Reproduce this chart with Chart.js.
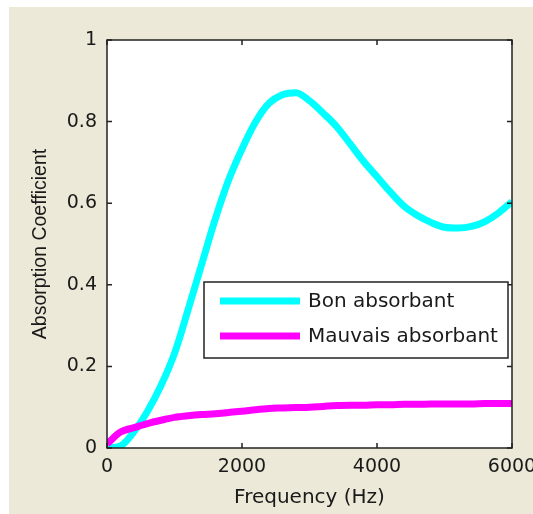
<!DOCTYPE html>
<html>
<head>
<meta charset="utf-8">
<script src="https://cdn.jsdelivr.net/npm/chart.js@4.4.1/dist/chart.umd.min.js"></script>
<style>
  html, body { margin:0; padding:0; background:#fff; }
  #graphe { position:absolute; left:9px; top:7px; background:#ece9d8; }
</style>
</head>
<body>
<canvas id="graphe" width="524" height="507"></canvas>
<script>
// valeurs (frequence en Hz, pas de 200)
var frequence = [0,200,400,600,800,1000,1200,1400,1600,1800,2000,2200,2400,2600,2800,3000,
                 3200,3400,3600,3800,4000,4200,4400,4600,4800,5000,5200,5400,5600,5800,6000];
var bonAbsorbant = [0.000,0.005,0.040,0.090,0.153,0.232,0.338,0.449,0.559,0.656,0.733,0.799,0.845,0.866,0.871,0.851,
                    0.821,0.788,0.746,0.703,0.665,0.627,0.593,0.570,0.553,0.541,0.539,0.543,0.555,0.576,0.604];
var mauvaisAbsorbant = [0.010,0.039,0.050,0.060,0.068,0.075,0.079,0.082,0.084,0.087,0.090,0.094,0.097,0.098,0.099,0.100,
                        0.102,0.104,0.105,0.105,0.106,0.106,0.107,0.107,0.108,0.108,0.108,0.108,0.109,0.109,0.109];
var legendes = ["Bon absorbant", "Mauvais absorbant"];
var couleurs = ["#00ffff", "#ff00ff"];
var ticksX = [0, 2000, 4000, 6000];
var ticksY = [0, 0.2, 0.4, 0.6, 0.8, 1];

function points(valeurs){
  return frequence.map(function(f, i){ return {x: f, y: valeurs[i]} })
}

var texte = "#1a1a1a";

// fond blanc + cadre + ticks vers l'interieur (style matlab)
var cadre = {
  id: "cadre",
  beforeDatasetsDraw: function(chart){
    var a = chart.chartArea, ctx = chart.ctx;
    ctx.save();
    ctx.fillStyle = "#fff";
    ctx.fillRect(a.left, a.top, a.right - a.left, a.bottom - a.top);
    ctx.restore();
  },
  afterDatasetsDraw: function(chart){
    var a = chart.chartArea, ctx = chart.ctx;
    var sx = chart.scales.x, sy = chart.scales.y;
    ctx.save();
    ctx.strokeStyle = "#222";
    ctx.lineWidth = 1.5;
    ctx.strokeRect(a.left, a.top, a.right - a.left, a.bottom - a.top);
    ctx.beginPath();
    ticksX.forEach(function(v){
      var px = sx.getPixelForValue(v);
      ctx.moveTo(px, a.bottom); ctx.lineTo(px, a.bottom - 5);
      ctx.moveTo(px, a.top); ctx.lineTo(px, a.top + 5);
    });
    ticksY.forEach(function(v){
      var py = sy.getPixelForValue(v);
      ctx.moveTo(a.left, py); ctx.lineTo(a.left + 5, py);
      ctx.moveTo(a.right, py); ctx.lineTo(a.right - 5, py);
    });
    ctx.stroke();
    ctx.restore();
  }
};

// legende dans la zone du graphe, en bas a droite
var legendeBoite = {
  id: "legendeBoite",
  afterDraw: function(chart){
    var a = chart.chartArea, ctx = chart.ctx;
    var w = 304, h = 76;
    var x0 = a.right - 4 - w, y0 = a.top + 242;
    ctx.save();
    ctx.fillStyle = "#fff";
    ctx.fillRect(x0, y0, w, h);
    ctx.strokeStyle = "#222";
    ctx.lineWidth = 1.5;
    ctx.strokeRect(x0, y0, w, h);
    ctx.font = "20px 'DejaVu Sans'";
    ctx.textBaseline = "middle";
    ctx.fillStyle = texte;
    chart.data.datasets.forEach(function(ds, i){
      var yy = y0 + 19 + i * 35;
      ctx.strokeStyle = ds.borderColor;
      ctx.lineWidth = 7;
      ctx.beginPath();
      ctx.moveTo(x0 + 16, yy); ctx.lineTo(x0 + 96, yy);
      ctx.stroke();
      ctx.fillText(ds.label, x0 + 104, yy + 1);
    });
    ctx.restore();
  }
};

var ctx = document.getElementById("graphe");
var chart = new Chart(ctx, {
  type: "line",
  data: {
    datasets: [
      { label: legendes[0], data: points(bonAbsorbant), borderColor: couleurs[0], borderWidth: 7,
        pointRadius: 0, cubicInterpolationMode: "monotone", clip: 0, order: 2, fill: false },
      { label: legendes[1], data: points(mauvaisAbsorbant), borderColor: couleurs[1], borderWidth: 7,
        pointRadius: 0, cubicInterpolationMode: "monotone", clip: 0, order: 1, fill: false }
    ]
  },
  plugins: [cadre, legendeBoite],
  options: {
    responsive: false,
    animation: false,
    layout: { padding: { top: 33, right: 21, left: 0, bottom: 0 } },
    plugins: { legend: { display: false }, tooltip: { enabled: false } },
    scales: {
      x: {
        type: "linear", min: 0, max: 6000,
        afterBuildTicks: function(s){ s.ticks = ticksX.map(function(v){ return {value: v} }) },
        afterFit: function(s){ s.height = 66; s.paddingLeft = 0; s.paddingRight = 0 },
        grid: { display: false, drawTicks: false },
        border: { display: false },
        ticks: { callback: function(v){ return String(v) }, color: texte, padding: 8,
                 maxRotation: 0, autoSkip: false, font: { family: "DejaVu Sans", size: 19 } },
        title: { display: true, text: "Frequency (Hz)", color: texte, padding: { top: 0, bottom: 4 },
                 font: { family: "DejaVu Sans", size: 20 } }
      },
      y: {
        min: 0, max: 1,
        afterBuildTicks: function(s){ s.ticks = ticksY.map(function(v){ return {value: v} }) },
        afterFit: function(s){ s.width = 98; s.paddingTop = 0; s.paddingBottom = 0 },
        grid: { display: false, drawTicks: false },
        border: { display: false },
        ticks: { callback: function(v){ return String(v) }, color: texte, padding: 10,
                 font: { family: "DejaVu Sans", size: 19 } },
        title: { display: true, text: "Absorption Coefficient", color: texte, padding: { top: 20, bottom: 0 },
                 font: { family: "Liberation Sans", size: 19.5 } }
      }
    }
  }
});
</script>
</body>
</html>
